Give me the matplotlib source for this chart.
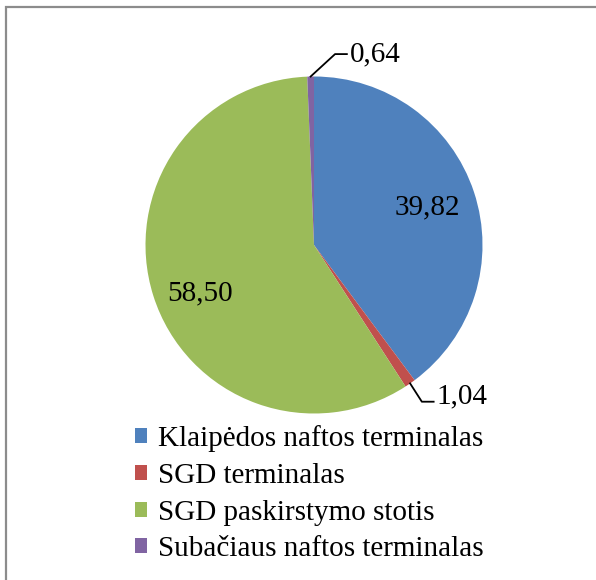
import numpy as np
import matplotlib
matplotlib.use('Agg')
import matplotlib.pyplot as plt
from matplotlib.patches import Rectangle

plt.rcParams['font.family'] = ['Liberation Serif', 'DejaVu Serif']

# data
names = ['Klaipėdos naftos terminalas', 'SGD terminalas',
         'SGD paskirstymo stotis', 'Subačiaus naftos terminalas']
values = [39.82, 1.04, 58.50, 0.64]
colors = ['#4F81BD', '#C0504D', '#9BBB59', '#8064A2']

W, H = 596, 580
fig = plt.figure(figsize=(W / 100, H / 100), dpi=100)

# outer chart border (clipped at right/bottom like the source)
fig.patches.append(Rectangle((5.5 / W, -0.1), 1.2, 1 - 6.5 / H + 0.1,
                             transform=fig.transFigure, fill=False,
                             edgecolor='#8c8c8c', lw=1.6, zorder=0))

# pie axes: centre at (314, 245) px, radius ~168.5 px
cx, cy, r = 314, 245, 168.5
ax = fig.add_axes([(cx - r) / W, 1 - (cy + r) / H, 2 * r / W, 2 * r / H])
wedges, _ = ax.pie(values, colors=colors, startangle=90, counterclock=False,
                   wedgeprops=dict(linewidth=0))
ax.set_xlim(-1, 1)
ax.set_ylim(-1, 1)
ax.set_aspect('auto')

fs = 21
def fmt(v):
    return ('%.2f' % v).replace('.', ',')

for w, v in zip(wedges, values):
    mid = np.deg2rad((w.theta1 + w.theta2) / 2)
    c, s = np.cos(mid), np.sin(mid)
    if v > 10:
        dy = 0.0 if s > 0 else -0.07
        ax.text(0.71 * c, 0.71 * s + dy, fmt(v), ha='center', va='center',
                fontsize=fs)
    else:
        # leader line from the slice edge
        if s > 0:
            kx, ky = 0.125, 1.133
        else:
            kx, ky = 0.64, -0.93
        ax.plot([c, kx, kx + 0.07], [s, ky, ky], color='black', lw=1.3,
                clip_on=False)
        ax.text(kx + 0.085, ky + (0.0 if s > 0 else 0.03), fmt(v), ha='left',
                va='center', fontsize=fs)

fig.legend(wedges, names, loc='upper left',
           bbox_to_anchor=(135 / W, 1 - 425 / H), frameon=False,
           fontsize=fs, handlelength=0.42, handleheight=0.42,
           handletextpad=0.38, labelspacing=0.37, borderpad=0,
           borderaxespad=0)

fig.savefig('out.png', dpi=100)
